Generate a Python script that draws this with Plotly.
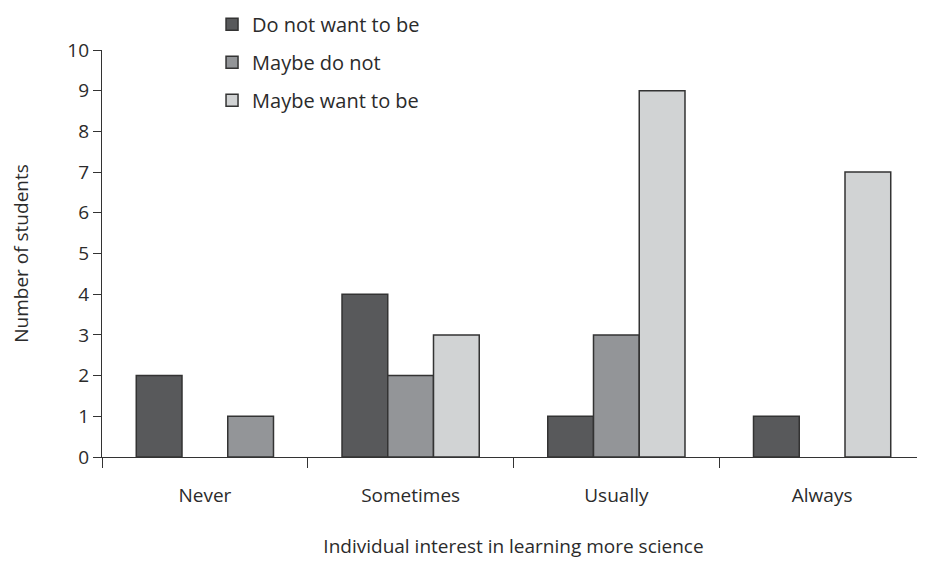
import plotly.graph_objects as go

categories = ["Never", "Sometimes", "Usually", "Always"]
series_names = ["Do not want to be", "Maybe do not", "Maybe want to be"]
do_not_want = [2, 4, 1, 1]
maybe_do_not = [None, 2, 3, None]
maybe_want = [1, 3, 9, 7]
y_ticks = list(range(0, 11))

DARK = "#58595b"
MED = "#939598"
LIGHT = "#d1d3d4"
EDGE = "#333333"
FONT = "Open Sans"
TXT = "#2b2b2b"

# In the reference, the "Never" bar of the third slot is drawn in the medium shade
want_main = [None if c == "Never" else v for c, v in zip(categories, maybe_want)]
want_never = [v if c == "Never" else None for c, v in zip(categories, maybe_want)]

line = dict(color=EDGE, width=1.5)
fig = go.Figure()
fig.add_trace(go.Bar(x=categories, y=do_not_want, name=series_names[0], legendgroup="a",
                     offsetgroup="a", marker=dict(color=DARK, line=line)))
fig.add_trace(go.Bar(x=categories, y=maybe_do_not, name=series_names[1], legendgroup="b",
                     offsetgroup="b", marker=dict(color=MED, line=line)))
fig.add_trace(go.Bar(x=categories, y=want_main, name=series_names[2], legendgroup="c",
                     offsetgroup="c", marker=dict(color=LIGHT, line=line)))
fig.add_trace(go.Bar(x=categories, y=want_never, name=series_names[2], legendgroup="c",
                     offsetgroup="c", showlegend=False, marker=dict(color=MED, line=line)))

# The page adds an 8px body margin, so the figure is sized and offset to compensate.
fig.update_layout(
    width=917, height=557,
    margin=dict(l=94, r=0, t=42, b=108, autoexpand=False),
    paper_bgcolor="white", plot_bgcolor="white",
    barmode="group", bargap=0.333, bargroupgap=0,
    font=dict(family=FONT, size=19, color=TXT),
    showlegend=True,
    legend=dict(x=0.1337, xref="paper", xanchor="left", y=1.111, yref="paper",
                yanchor="top", font=dict(size=20, color=TXT), tracegroupgap=9,
                bgcolor="rgba(0,0,0,0)", itemwidth=30),
    xaxis=dict(
        range=[-0.5, 3.5], showline=True, linecolor=EDGE, linewidth=1.2,
        ticks="outside", tickson="boundaries", ticklen=10, tickcolor=EDGE, tickwidth=1.2,
        ticklabelstandoff=21,
        title=dict(text="Individual interest in learning more science", standoff=32,
                   font=dict(size=19)),
        showgrid=False, zeroline=False,
    ),
    yaxis=dict(
        range=[0, 10], tickvals=y_ticks, showline=True, linecolor=EDGE, linewidth=1.2,
        ticks="outside", ticklen=8, tickcolor=EDGE, tickwidth=1.2,
        title=dict(text="Number of students", standoff=37, font=dict(size=19)),
        showgrid=False, zeroline=False,
    ),
)

fig.write_html("out.html", config={"displayModeBar": False})
